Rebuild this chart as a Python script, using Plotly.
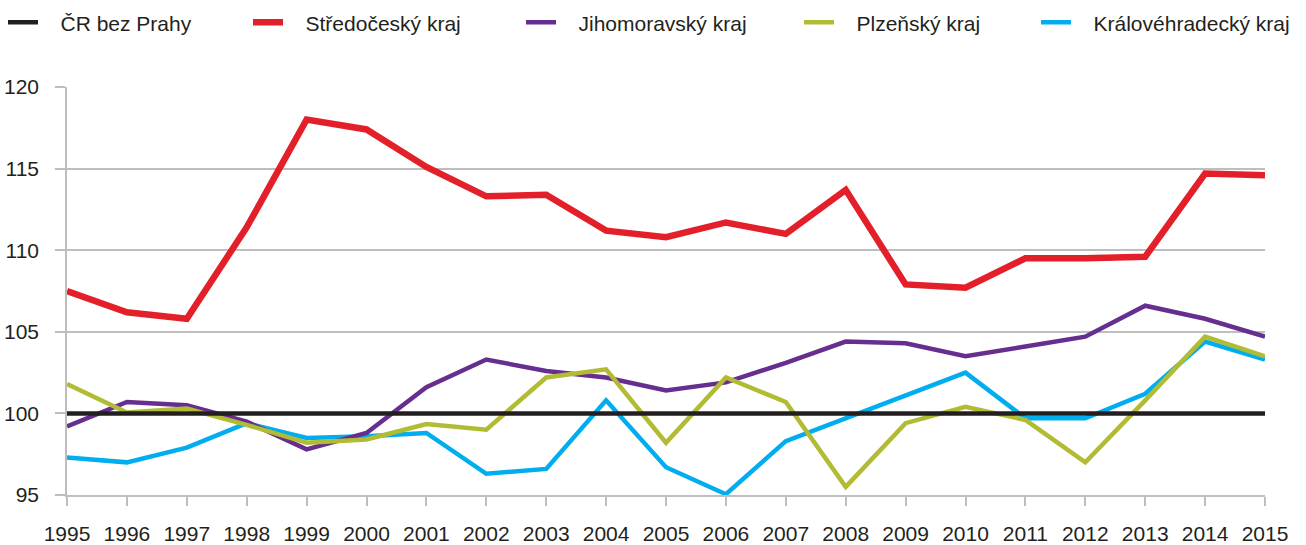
import plotly.graph_objects as go

years = list(range(1995, 2016))
cr_bez_prahy = [100] * 21
stredocesky = [107.5, 106.2, 105.8, 111.4, 118.0, 117.4, 115.1, 113.3, 113.4, 111.2, 110.8,
               111.7, 111.0, 113.7, 107.9, 107.7, 109.5, 109.5, 109.6, 114.7, 114.6]
jihomoravsky = [99.2, 100.7, 100.5, 99.5, 97.8, 98.8, 101.6, 103.3, 102.6, 102.2, 101.4,
                101.9, 103.1, 104.4, 104.3, 103.5, 104.1, 104.7, 106.6, 105.8, 104.7]
plzensky = [101.8, 100.05, 100.3, 99.3, 98.2, 98.4, 99.35, 99.0, 102.2, 102.7, 98.2,
            102.2, 100.7, 95.5, 99.4, 100.4, 99.6, 97.0, 100.8, 104.7, 103.5]
kralovehradecky = [97.3, 97.0, 97.9, 99.4, 98.5, 98.6, 98.8, 96.3, 96.6, 100.8, 96.7,
                   95.05, 98.3, 99.7, 101.1, 102.5, 99.7, 99.7, 101.2, 104.4, 103.3]

names = ["ČR bez Prahy", "Středočeský kraj", "Jihomoravský kraj", "Plzeňský kraj", "Královéhradecký kraj"]
colors = ["#231F20", "#E3202A", "#662F8F", "#B2BB34", "#00AEEF"]
widths = [4.5, 6.5, 4.5, 4.5, 4.5]
series = [cr_bez_prahy, stredocesky, jihomoravsky, plzensky, kralovehradecky]
legend_ids = ["legend", "legend2", "legend3", "legend4", "legend5"]
legend_left = [7, 252, 525, 803, 1040]  # pixel start of each legend sample

W, H = 1306, 545
pad_l = "\u00a0" * 3

fig = go.Figure()
# draw order: blue, purple, olive, red, black
for idx in [4, 2, 3, 1, 0]:
    fig.add_trace(go.Scatter(
        x=years, y=series[idx], mode="lines", name=pad_l + names[idx],
        line=dict(color=colors[idx], width=widths[idx]),
        legend=legend_ids[idx], hoverinfo="x+y",
    ))

legends = {}
for lid, left in zip(legend_ids, legend_left):
    legends[lid] = dict(orientation="h", x=max(left - 4, 0) / W, xanchor="left",
                        y=0.996, yanchor="top", xref="container", yref="container",
                        font=dict(size=21), bgcolor="rgba(0,0,0,0)")

grid = "#BEBEBE"
fig.update_layout(
    width=W, height=H,
    margin=dict(l=67, r=41, t=87, b=50, autoexpand=False),
    plot_bgcolor="white", paper_bgcolor="white",
    font=dict(family="Liberation Sans, Arial, sans-serif", size=21, color="#231F20"),
    showlegend=True,
    xaxis=dict(range=[1995, 2015], tickvals=years, ticktext=[str(y) for y in years],
               showgrid=False, zeroline=False, showline=True, linecolor=grid, linewidth=1.5,
               ticks="outside", ticklen=9, tickcolor=grid, tickwidth=1.5,
               ticklabelstandoff=10),
    yaxis=dict(range=[95, 120], dtick=5, tick0=95, showgrid=True, gridcolor=grid, gridwidth=1.5,
               zeroline=False, showline=True, linecolor=grid, linewidth=1.5,
               ticks="outside", ticklen=10, tickcolor=grid, tickwidth=1.5,
               ticklabelstandoff=12),
    **legends,
)

fig.write_html("out.html", config={"displayModeBar": False},
               post_script="document.body.style.margin='0';document.body.style.overflow='hidden';")
